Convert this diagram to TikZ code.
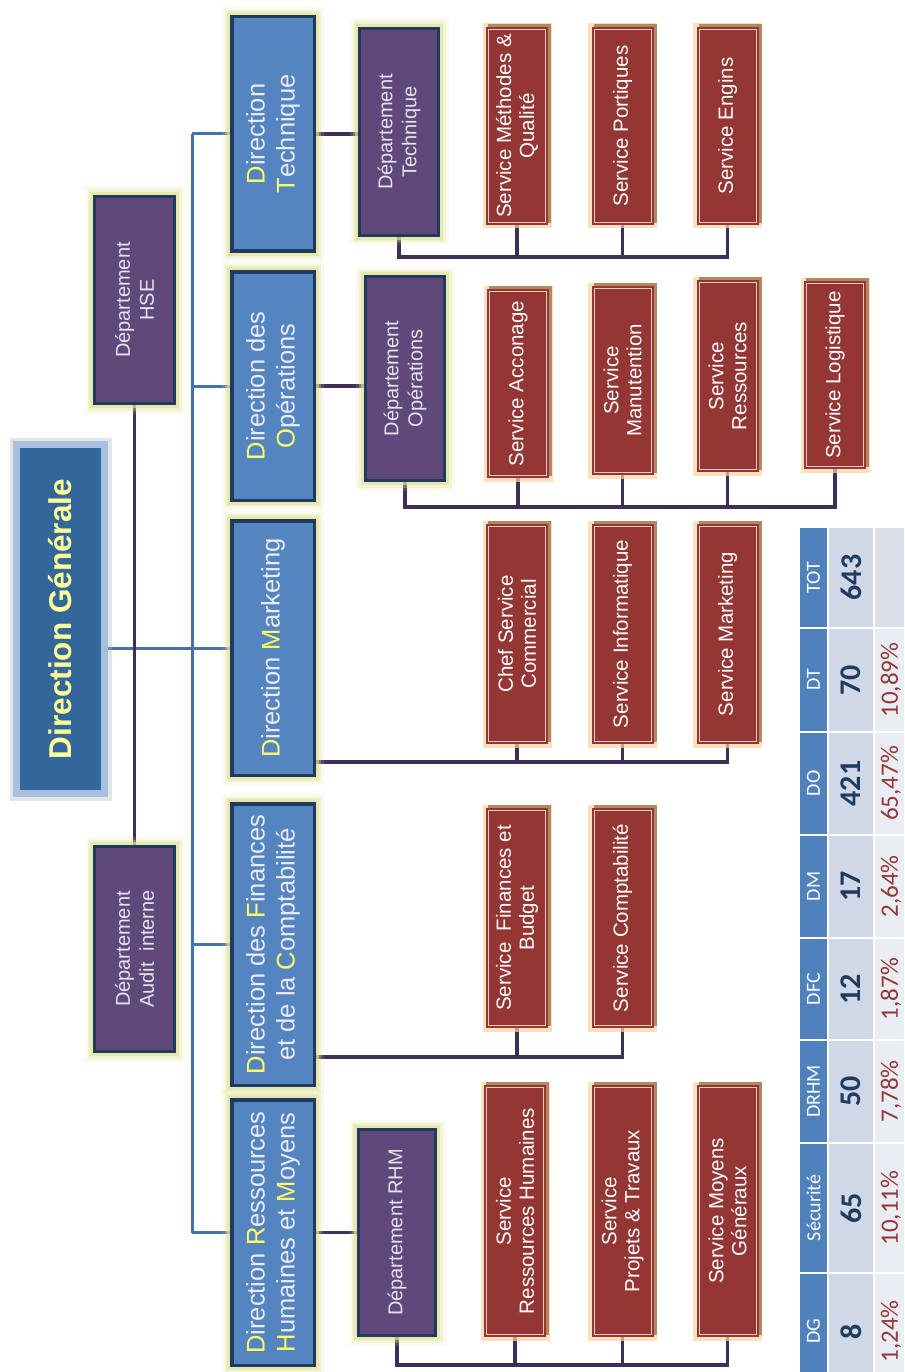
\documentclass[tikz,border=0pt]{standalone}
\usepackage{fontspec}
\setmainfont{Liberation Sans}
\newfontfamily\tabfont{Carlito}
\usetikzlibrary{calc}
\definecolor{dirfill}{HTML}{5585C1}
\definecolor{dirborder}{HTML}{1F3A5E}
\definecolor{glowyel}{HTML}{E2E296}
\definecolor{deptfill}{HTML}{5F497A}
\definecolor{svcfill}{HTML}{943634}
\definecolor{svcline}{HTML}{F0C8C0}
\definecolor{svcglow}{HTML}{FAD3A6}
\definecolor{svcshadow}{HTML}{B08A5E}
\definecolor{dgfill}{HTML}{33669A}
\definecolor{dgbevel}{HTML}{A6C1E0}
\definecolor{dgtext}{HTML}{FFFF99}
\definecolor{dirtext}{HTML}{E9ECF6}
\definecolor{inity}{HTML}{FFFF66}
\definecolor{depttext}{HTML}{E8E2EE}
\definecolor{bluel}{HTML}{4472AA}
\definecolor{purpl}{HTML}{3D2F55}
\definecolor{thead}{HTML}{4F81BD}
\definecolor{tval}{HTML}{D0D8E8}
\definecolor{tpct}{HTML}{E9EDF4}
\definecolor{ttot}{HTML}{D9DEE8}
\definecolor{tnum}{HTML}{1F3B5F}
\definecolor{tred}{HTML}{953735}
\newcommand\Yl[1]{\textcolor{inity}{#1}}
\pgfdeclarelayer{bg}
\pgfsetlayers{bg,main}
\tikzset{
  glowbox/.style={preaction={draw=glowyel, line width=20pt, opacity=0.15},
                  preaction={draw=glowyel, line width=14pt, opacity=0.3},
                  preaction={draw=glowyel, line width=9pt, opacity=0.6}},
  dirbox/.style={rotate=90, glowbox, draw=dirborder, line width=3.5pt, fill=dirfill,
                 inner sep=0pt, align=center, text=dirtext,
                 font=\fontsize{25.5}{30}\selectfont, minimum height=82.5pt},
  deptbox/.style={rotate=90, glowbox, draw=dirborder, line width=3pt, fill=deptfill,
                 inner sep=0pt, align=center, text=depttext,
                 font=\fontsize{20}{24}\selectfont},
  svcbox/.style={rotate=90, fill=svcfill, draw=svcline, line width=0.8pt,
                 text=white, font=\fontsize{20.5}{23}\selectfont, align=center,
                 inner sep=0pt, minimum height=57pt,
                 preaction={draw=svcglow, line width=12pt, opacity=0.7},
                 preaction={draw=svcshadow, line width=6pt, transform canvas={xshift=2.5pt,yshift=2.5pt}},
                 preaction={draw=svcfill, line width=5pt}},
  dgbox/.style={rotate=90, fill=dgfill, draw=dgbevel, line width=7pt,
                text=dgtext, inner sep=0pt,
                font=\bfseries\fontsize{31.5}{36}\selectfont,
                preaction={draw=gray!60, line width=14pt, opacity=0.35}},
  blueln/.style={draw=bluel, line width=3pt},
  purpln/.style={draw=purpl, line width=3.5pt, line join=miter},
  thtext/.style={rotate=90, text=white, font=\tabfont\fontsize{20}{22}\selectfont, inner sep=0pt},
  tvtext/.style={rotate=90, text=tnum, font=\tabfont\bfseries\fontsize{30}{32}\selectfont, inner sep=0pt},
  tptext/.style={rotate=90, text=tred, font=\tabfont\fontsize{25}{27}\selectfont, inner sep=0pt}
}
\begin{document}
\begin{tikzpicture}[x=1pt,y=-1pt]
\useasboundingbox (0,0) rectangle (904,1372);
\clip (0,0) rectangle (904,1372);

% Direction Generale
\node[dgbox, minimum width=349pt, minimum height=88pt] (dg) at (60.5,619) {Direction Générale};

% Departements rattaches
\node[deptbox, minimum width=207pt, minimum height=80pt] (hse) at (134.5,300) {Département\\HSE};
\node[deptbox, minimum width=205pt, minimum height=80pt] (audit) at (134.5,949) {Département\\Audit\ \ interne};

% Directions
\node[dirbox, minimum width=234.5pt] (dt) at (273,134) {\Yl{D}irection\\\Yl{T}echnique};
\node[dirbox, minimum width=228.5pt] (do) at (273,386) {\Yl{D}irection des\\\Yl{O}pérations};
\node[dirbox, minimum width=254.5pt] (dm) at (273,648) {\Yl{D}irection \Yl{M}arketing};
\node[dirbox, minimum width=281.5pt] (dfc) at (273,944.5) {\Yl{D}irection des \Yl{F}inances\\et de la \Yl{C}omptabilité};
\node[dirbox, minimum width=265.5pt] (drhm) at (273,1232.5) {\Yl{D}irection \Yl{R}essources\\\Yl{H}umaines et \Yl{M}oyens};

% Departements
\node[deptbox, minimum width=207pt, minimum height=79pt] (deptT) at (399,132) {Département\\Technique};
\node[deptbox, minimum width=204pt, minimum height=79pt] (deptO) at (405,378.5) {Département\\Opérations};
\node[deptbox, minimum width=206pt, minimum height=77pt] (deptR) at (397,1232.5) {Département RHM};

% Services
\node[svcbox, minimum width=193pt] (sMQ) at (517,126) {Service Méthodes \&\\Qualité};
\node[svcbox, minimum width=193pt] (sPO) at (622.5,126) {Service Portiques};
\node[svcbox, minimum width=193pt] (sEN) at (727.5,126) {Service Engins};

\node[svcbox, minimum width=184pt] (sAC) at (518,383.5) {Service Acconage};
\node[svcbox, minimum width=184pt] (sMA) at (622.5,380.5) {Service\\Manutention};
\node[svcbox, minimum width=187pt] (sRE) at (727.5,376) {Service\\Ressources};
\node[svcbox, minimum width=183pt] (sLO) at (835,375) {Service Logistique};

\node[svcbox, minimum width=215pt] (sCS) at (517,634) {Chef Service\\Commercial};
\node[svcbox, minimum width=215pt] (sIN) at (622.5,634) {Service Informatique};
\node[svcbox, minimum width=215pt] (sMK) at (727.5,634) {Service Marketing};

\node[svcbox, minimum width=215pt] (sFB) at (517,918) {Service\ \ Finances et\\Budget};
\node[svcbox, minimum width=215pt] (sCO) at (622.5,918) {Service Comptabilité};

\node[svcbox, minimum width=247pt] (sRH) at (515,1211) {Service\\Ressources Humaines};
\node[svcbox, minimum width=247pt] (sPT) at (622.5,1211) {Service\\Projets \& Travaux};
\node[svcbox, minimum width=247pt] (sMG) at (727.5,1211) {Service Moyens\\Généraux};

% reference coordinates
\coordinate (spX) at (192,0);
\coordinate (bT) at (0,257);
\coordinate (bO) at (0,507);
\coordinate (bM) at (0,762);
\coordinate (bF) at (0,1057);
\coordinate (bR) at (0,1365);

\begin{pgfonlayer}{bg}
\fill[white] (0,0) rectangle (904,1372);
\draw[blueln] (dt.north -| spX) -- (drhm.north -| spX);
\foreach \n in {dt,do,dm,dfc,drhm} \draw[blueln] (\n.north -| spX) -- (\n.north);
\draw[blueln] (dg.south |- dm.north) -- (dm.north -| spX);
\draw[purpln] (hse.west) -- (audit.east);

\draw[purpln] (dt.south) -- (dt.south -| deptT.north);
\draw[purpln] (do.south) -- (do.south -| deptO.north);
\draw[purpln] (drhm.south) -- (drhm.south -| deptR.north);

\draw[purpln] (deptT.west) -- (deptT.west |- bT) -- (sEN.west |- bT) -- (sEN.west);
\foreach \s in {sMQ,sPO} \draw[purpln] (\s.west) -- (\s.west |- bT);

\draw[purpln] (deptO.west) -- (deptO.west |- bO) -- (sLO.west |- bO) -- (sLO.west);
\foreach \s in {sAC,sMA,sRE} \draw[purpln] (\s.west) -- (\s.west |- bO);

\draw[purpln] (dm.south |- bM) -- (sMK.west |- bM) -- (sMK.west);
\foreach \s in {sCS,sIN} \draw[purpln] (\s.west) -- (\s.west |- bM);

\draw[purpln] (dfc.south |- bF) -- (sCO.west |- bF) -- (sCO.west);
\draw[purpln] (sFB.west) -- (sFB.west |- bF);

\draw[purpln] (deptR.west) -- (deptR.west |- bR) -- (sMG.west |- bR) -- (sMG.west);
\foreach \s in {sRH,sPT} \draw[purpln] (\s.west) -- (\s.west |- bR);
\end{pgfonlayer}

% Tableau des effectifs
\foreach \a/\b/\h/\v/\p [count=\i] in
  {527/628/TOT/643/{},628/732/DT/70/{10,89\%},732/835/DO/421/{65,47\%},
   835/938/DM/17/{2,64\%},938/1040/DFC/12/{1,87\%},1040/1143/DRHM/50/{7,78\%},
   1143/1273/Sécurité/65/{10,11\%},1273/1390/DG/8/{1,24\%}}{
  \fill[thead] (800,\a+1) rectangle (827,\b-1);
  \fill[tval] (828.5,\a+1) rectangle (873,\b-1);
  \ifnum\i=1
    \fill[ttot] (874.5,\a+1) rectangle (910,\b-1);
  \else
    \fill[tpct] (874.5,\a+1) rectangle (910,\b-1);
  \fi
  \node[thtext] (th\i) at (813.5,{(\a+\b)/2}) {\h};
  \node[tvtext] (tv\i) at (851,{(\a+\b)/2}) {\v};
  \node[tptext] (tp\i) at (891,{(\a+\b)/2}) {\p};
}
\end{tikzpicture}
\end{document}
